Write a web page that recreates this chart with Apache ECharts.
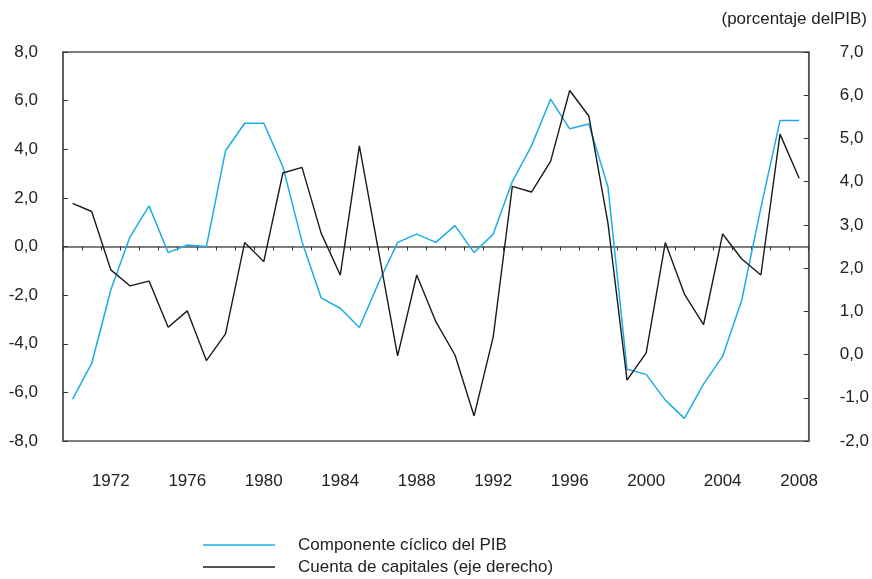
<!DOCTYPE html>
<html style="height: 100%">
<head>
	<meta charset="utf-8">
</head>
<body style="height: 100%; margin: 0">
<div id="container" style="width: 872px; height: 579px"></div>
<script type="text/javascript" src="https://cdn.jsdelivr.net/npm/echarts@6/dist/echarts.min.js"></script>
<script type="text/javascript">
    var years = [];
    for (var y = 1970; y <= 2008; y++) years.push(String(y));

    // componente cíclico del PIB (eje izquierdo)
    var ciclo = [-6.28, -4.81, -1.79, 0.39, 1.67, -0.25, 0.06, 0.0, 3.94, 5.07,
        5.07, 3.28, 0.2, -2.11, -2.54, -3.33, -1.5, 0.17, 0.51, 0.17,
        0.86, -0.25, 0.51, 2.67, 4.14, 6.06, 4.84, 5.04, 2.46, -5.05,
        -5.26, -6.32, -7.07, -5.66, -4.51, -2.2, 1.6, 5.18, 5.18];

    // cuenta de capitales (eje derecho)
    var capitales = [3.5, 3.31, 1.96, 1.59, 1.7, 0.63, 1.01, -0.14, 0.48, 2.59,
        2.15, 4.2, 4.33, 2.81, 1.84, 4.83, 2.4, -0.03, 1.84, 0.76,
        -0.01, -1.42, 0.41, 3.89, 3.76, 4.47, 6.11, 5.52, 3.04, -0.59,
        0.04, 2.59, 1.4, 0.69, 2.79, 2.21, 1.84, 5.1, 4.08];

    var fontName = "'Liberation Sans', sans-serif";
    var comma = function (v) { return v.toFixed(1).replace('.', ','); };

    var myChart = echarts.init(document.getElementById('container'));
    var option = {
        backgroundColor: '#fff',
        textStyle: { fontFamily: fontName },
        title: {
            text: '(porcentaje delPIB)',
            right: 0,
            top: 6,
            textStyle: { fontFamily: fontName, fontSize: 17, fontWeight: 'normal', color: '#222' }
        },
        legend: {
            orient: 'vertical',
            left: 203,
            top: 535,
            padding: 0,
            icon: 'rect',
            itemWidth: 72,
            itemHeight: 1.5,
            itemGap: 2,
            textStyle: { fontFamily: fontName, fontSize: 17, lineHeight: 20, color: '#222', padding: [0, 0, 0, 18] },
            data: ['Componente cíclico del PIB', 'Cuenta de capitales (eje derecho)']
        },
        grid: {
            left: 63,
            right: 61,
            top: 52,
            bottom: 138,
            show: true,
            borderColor: '#555',
            borderWidth: 1.5
        },
        xAxis: [{
            type: 'category',
            data: years,
            boundaryGap: true,
            axisLine: { onZero: true, lineStyle: { color: '#555', width: 1.5 } },
            axisTick: { show: true, length: 4, interval: 0, lineStyle: { color: '#333' } },
            axisLabel: { show: false }
        }, {
            type: 'category',
            data: years,
            boundaryGap: true,
            position: 'bottom',
            axisLine: { show: false, onZero: false },
            axisTick: { show: false },
            axisLabel: {
                margin: 32,
                fontSize: 17,
                color: '#222',
                fontFamily: fontName,
                interval: function (idx, val) { return (Number(val) - 1972) % 4 === 0; }
            }
        }],
        yAxis: [{
            type: 'value',
            min: -8,
            max: 8,
            interval: 2,
            axisLine: { show: true, lineStyle: { color: '#555', width: 1.5 } },
            axisTick: { show: true, inside: true, length: 5, lineStyle: { color: '#333' } },
            splitLine: { show: false },
            axisLabel: { margin: 25, fontSize: 17, color: '#222', fontFamily: fontName, formatter: comma }
        }, {
            type: 'value',
            min: -2,
            max: 7,
            interval: 1,
            position: 'right',
            axisLine: { show: true, lineStyle: { color: '#555', width: 1.5 } },
            axisTick: { show: true, inside: true, length: 5, lineStyle: { color: '#333' } },
            splitLine: { show: false },
            axisLabel: { margin: 31, fontSize: 17, color: '#222', fontFamily: fontName, formatter: comma }
        }],
        series: [{
            name: 'Componente cíclico del PIB',
            type: 'line',
            data: ciclo,
            yAxisIndex: 0,
            symbol: 'none',
            lineStyle: { color: '#1aaee6', width: 1.5 },
            itemStyle: { color: '#1aaee6' }
        }, {
            name: 'Cuenta de capitales (eje derecho)',
            type: 'line',
            data: capitales,
            yAxisIndex: 1,
            symbol: 'none',
            lineStyle: { color: '#1a1a1a', width: 1.4 },
            itemStyle: { color: '#1a1a1a' }
        }]
    };
    myChart.setOption(option);
</script>
</body>
</html>
